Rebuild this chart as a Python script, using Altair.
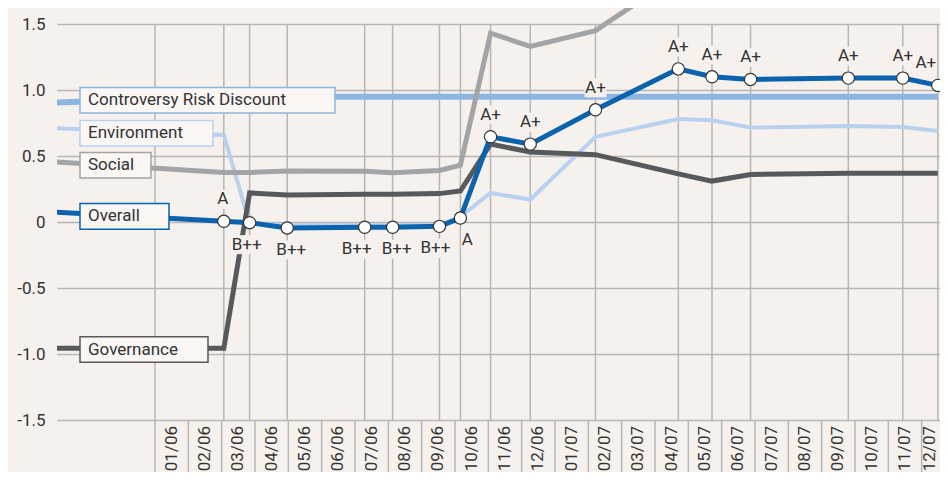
import calendar
import altair as alt
import pandas as pd

# ---------------- data ----------------
start_date = "2005-10-02"
year_start = "2006-01-01"
obs_dates = ["2006-03-03", "2006-03-27", "2006-04-30", "2006-07-10", "2006-08-05",
             "2006-09-17", "2006-10-06", "2006-11-03", "2006-12-09", "2007-02-07",
             "2007-04-22", "2007-05-23", "2007-06-27", "2007-09-25", "2007-11-14",
             "2007-12-16"]
ratings = ["A", "B++", "B++", "B++", "B++", "B++", "A", "A+", "A+", "A+",
           "A+", "A+", "A+", "A+", "A+", "A+"]
rating_side = ["above", "below", "below", "below", "below", "below", "below", "above",
               "above", "above", "above", "above", "above", "above", "above", "above"]
rating_nudge_px = [-1, -3, 4, -8, 4, -4, 7, 0, 0, 0, 0, 0, 0, 0, 0, -12]

# first value = start of the series (left edge)
overall = [0.075, 0.005, -0.005, -0.045, -0.04, -0.04, -0.033, 0.03, 0.646, 0.59,
           0.85, 1.16, 1.10, 1.08, 1.09, 1.09, 1.035]
environment = [0.71, 0.66, -0.01, -0.025, -0.025, -0.025, -0.025, 0.04, 0.22, 0.17,
               0.646, 0.78, 0.77, 0.715, 0.727, 0.72, 0.69]
social = [0.455, 0.375, 0.375, 0.386, 0.384, 0.373, 0.39, 0.43, 1.43, 1.33,
          1.45, 1.87, 1.95, 1.95, 1.92, 1.88, 1.68]
governance = [-0.957, -0.957, 0.22, 0.205, 0.21, 0.21, 0.215, 0.235, 0.59, 0.53,
              0.51, 0.365, 0.31, 0.36, 0.37, 0.37, 0.37]
controversy = [0.905, 0.948, 0.948, 0.948, 0.948, 0.948, 0.948, 0.948, 0.948, 0.948,
               0.948, 0.948, 0.948, 0.948, 0.948, 0.948, 0.948]

month_labels = ["01/06", "02/06", "03/06", "04/06", "05/06", "06/06", "07/06", "08/06",
                "09/06", "10/06", "11/06", "12/06", "01/07", "02/07", "03/07", "04/07",
                "05/07", "06/07", "07/07", "08/07", "09/07", "10/07", "11/07", "12/07"]
y_ticks = [-1.5, -1.0, -0.5, 0, 0.5, 1.0, 1.5]

series_names = ["Controversy Risk Discount", "Environment", "Social", "Governance", "Overall"]
series_values = [controversy, environment, social, governance, overall]
series_colors = ["#8cb5e1", "#b8d1ee", "#a3a4a6", "#58595b", "#0b62ad"]
series_widths = [6, 4, 5, 5, 5]

# name boxes at the left (annotation table, in chart units)
box_names = ["Controversy Risk Discount", "Environment", "Social", "Overall", "Governance"]
box_x0 = [-2.25, -2.25, -2.25, -2.25, -2.25]
box_x1 = [5.4, 1.74, -0.12, 0.42, 1.59]
box_yc = [0.922, 0.672, 0.430, 0.043, -0.966]
box_half = 0.097

# ---------------- styles ----------------
BG = "#f6f1ec"
BOXFILL = "#f9f6f3"
GRID = "#b6b6b6"
TEXT = "#333333"
FONT = "Roboto"
FS = 17
W, H = 883, 412
BAND = 52
PX_PER_MONTH = 400 / 12
X0 = -98 / PX_PER_MONTH
X1 = X0 + W / PX_PER_MONTH
Y_TOP = H / 132 - 1.5


def month_index(s):
    y, m, d = map(int, s.split("-"))
    dim = calendar.monthrange(y, m)[1]
    return (y - 2006) * 12 + (m - 1) + (d - 1) / dim


xs = alt.Scale(domain=[X0, X1], nice=False, zero=False)
ys = alt.Scale(domain=[-1.5, Y_TOP], nice=False, zero=False)
yaxis = alt.Axis(values=y_ticks, title=None, ticks=False, domain=False,
                 grid=True, gridColor=GRID, gridWidth=1.5,
                 labelExpr="datum.value == 0 ? '0' : (datum.value < 0 ? '-' + format(-datum.value, '.1f') : format(datum.value, '.1f'))",
                 labelFont=FONT, labelFontSize=FS, labelColor=TEXT, labelPadding=12)


def X(f):
    return alt.X(f"{f}:Q", scale=xs, axis=None)


def Y(f):
    return alt.Y(f"{f}:Q", scale=ys, axis=yaxis)


all_dates = [start_date] + obs_dates
all_m = [month_index(d) for d in all_dates]

# vertical gridlines at observation dates
grid_df = pd.DataFrame({"m": [month_index(year_start)] + all_m[1:]})
grid_df["lo"] = -1.5
grid_df["hi"] = 1.5
vgrid = alt.Chart(grid_df).mark_rule(color=GRID, strokeWidth=1.5).encode(
    x=X("m"), y=Y("lo"), y2="hi")

# month band
sep_df = pd.DataFrame({"m": list(range(len(month_labels) + 1))})
seps = alt.Chart(sep_df).mark_rule(color=GRID, strokeWidth=1.5).encode(
    x=X("m"), y=alt.value(H), y2=alt.value(H + BAND))
mlab_df = pd.DataFrame({"m": [min(i + 0.5, X1 - 10 / PX_PER_MONTH) for i in range(len(month_labels))],
                        "t": month_labels})
mlabs = alt.Chart(mlab_df).mark_text(angle=270, align="right", baseline="middle",
                                     font=FONT, fontSize=FS, color=TEXT).encode(
    x=X("m"), y=alt.value(H + 6), text="t:N")

# series lines
line_layers = []
for name, vals, col, wd in zip(series_names, series_values, series_colors, series_widths):
    df = pd.DataFrame({"m": all_m, "v": vals, "series": name})
    line_layers.append(
        alt.Chart(df).mark_line(color=col, strokeWidth=wd, clip=True,
                                strokeJoin="miter", strokeCap="butt").encode(
            x=X("m"), y=Y("v"), order="m:Q"))

# name boxes
box_df = pd.DataFrame({"name": box_names, "x0": box_x0, "x1": box_x1, "yc": box_yc})
box_df["y0"] = box_df["yc"] - box_half
box_df["y1"] = box_df["yc"] + box_half
stroke_scale = alt.Scale(domain=series_names, range=series_colors)
boxes = alt.Chart(box_df).mark_rect(fill=BOXFILL, strokeWidth=1.5).encode(
    x=X("x0"), x2="x1", y=Y("y0"), y2="y1",
    stroke=alt.Stroke("name:N", scale=stroke_scale, legend=None))
box_text = alt.Chart(box_df).mark_text(align="left", baseline="middle", dx=8,
                                       font=FONT, fontSize=FS, color=TEXT).encode(
    x=X("x0"), y=Y("yc"), text="name:N")

# overall markers and rating labels
pts_df = pd.DataFrame({"m": all_m[1:], "v": overall[1:], "rating": ratings, "side": rating_side})
pts_df["lm"] = [m + n / PX_PER_MONTH for m, n in zip(all_m[1:], rating_nudge_px)]
pts_df["bg"] = [
    "M{a},-0.95L{b},-0.95L{b},0.95L{a},0.95Z".format(a=-(len(r) * 9 + 4) / 20, b=(len(r) * 9 + 4) / 20)
    for r in ratings]
points = alt.Chart(pts_df).mark_point(filled=True, fill="white", stroke=TEXT, strokeWidth=1.2,
                                      size=150, opacity=1, shape="circle").encode(
    x=X("m"), y=Y("v"))

label_layers = []
for side, off in [("above", -22), ("below", 22)]:
    base = alt.Chart(pts_df).transform_filter(alt.datum.side == side)
    label_layers.append(base.mark_point(filled=True, fill=BG, strokeWidth=0, size=400,
                                        opacity=1, yOffset=off).encode(
        x=X("lm"), y=Y("v"), shape=alt.Shape("bg:N", scale=None)))
    label_layers.append(base.mark_text(dy=off, baseline="middle", align="center",
                                       font=FONT, fontSize=FS, color=TEXT).encode(
        x=X("lm"), y=Y("v"), text="rating:N"))

chart = alt.layer(vgrid, seps, mlabs, *line_layers, boxes, box_text, points,
                  *label_layers).properties(
    width=W, height=H, background=BG,
    autosize=alt.AutoSizeParams(type="none"),
    padding={"left": 49, "top": 0, "right": 0, "bottom": BAND},
).configure_view(stroke=None)

chart.save("out.html", embed_options={"renderer": "svg", "actions": False})
